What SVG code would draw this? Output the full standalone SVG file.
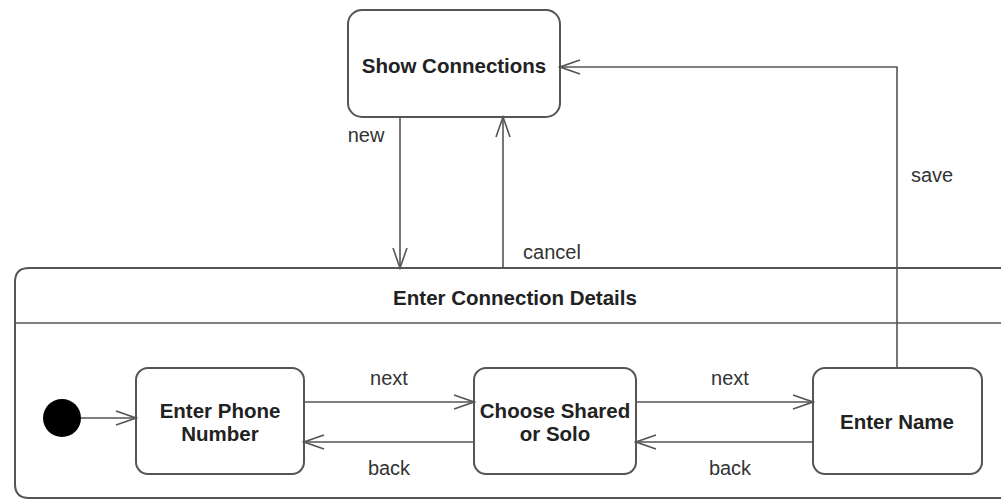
<svg xmlns="http://www.w3.org/2000/svg" width="1001" height="500" viewBox="0 0 1001 500">
<defs>
<style>
.box{fill:#fff;stroke:#555;stroke-width:2}
.ln{fill:none;stroke:#555;stroke-width:1.6}
.t{font-family:"Liberation Sans",Arial,sans-serif;font-size:20.5px;font-weight:bold;fill:#222;text-anchor:middle}
.l{font-family:"Liberation Sans",Arial,sans-serif;font-size:20px;fill:#333;text-anchor:middle}
</style>
<marker id="arr" viewBox="0 0 24 16" refX="22" refY="8" markerWidth="24" markerHeight="16" markerUnits="userSpaceOnUse" orient="auto">
<path d="M2,1 L22,8 L2,15" fill="none" stroke="#555" stroke-width="1.6"/>
</marker>
</defs>
<rect width="1001" height="500" fill="#fff"/>
<g id="composite">
<path class="box" d="M1003,268 L29,268 Q15,268 15,282 L15,484 Q15,498 29,498 L1003,498"/>
<line class="ln" x1="15" y1="323" x2="1003" y2="323"/>
<text class="t" x="515" y="305">Enter Connection Details</text>
</g>
<g id="show-connections">
<rect class="box" x="348" y="10" width="212" height="107" rx="14"/>
<text class="t" x="454" y="73">Show Connections</text>
</g>
<g id="initial">
<circle cx="62" cy="418" r="19" fill="#000"/>
</g>
<g id="enter-phone">
<rect class="box" x="136" y="368" width="168" height="106" rx="12"/>
<text class="t" x="220" y="418">Enter Phone</text>
<text class="t" x="220" y="441">Number</text>
</g>
<g id="choose">
<rect class="box" x="474" y="368" width="162" height="106" rx="12"/>
<text class="t" x="555" y="418">Choose Shared</text>
<text class="t" x="555" y="441">or Solo</text>
</g>
<g id="enter-name">
<rect class="box" x="813" y="368" width="169" height="106" rx="12"/>
<text class="t" x="897" y="429">Enter Name</text>
</g>
<g id="connectors">
<line class="ln" x1="81" y1="418" x2="136" y2="418" marker-end="url(#arr)"/>
<line class="ln" x1="400" y1="117" x2="400" y2="268" marker-end="url(#arr)"/>
<line class="ln" x1="503" y1="268" x2="503" y2="117" marker-end="url(#arr)"/>
<polyline class="ln" points="897,368 897,67 560,67" marker-end="url(#arr)"/>
<line class="ln" x1="304" y1="402" x2="474" y2="402" marker-end="url(#arr)"/>
<line class="ln" x1="474" y1="442" x2="304" y2="442" marker-end="url(#arr)"/>
<line class="ln" x1="636" y1="402" x2="813" y2="402" marker-end="url(#arr)"/>
<line class="ln" x1="813" y1="442" x2="636" y2="442" marker-end="url(#arr)"/>
<text class="l" x="366" y="142">new</text>
<text class="l" x="552" y="259">cancel</text>
<text class="l" x="932" y="182">save</text>
<text class="l" x="389" y="385">next</text>
<text class="l" x="389" y="475">back</text>
<text class="l" x="730" y="385">next</text>
<text class="l" x="730" y="475">back</text>
</g>
</svg>
